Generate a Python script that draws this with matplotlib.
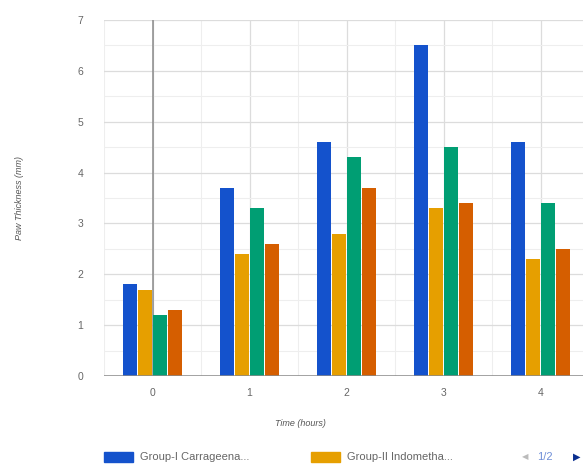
import matplotlib
matplotlib.use("Agg")
import matplotlib.pyplot as plt
import numpy as np
from matplotlib.patches import Rectangle

plt.rcParams['font.family'] = ['Liberation Sans', 'DejaVu Sans']

hours = [0, 1, 2, 3, 4]
group_i = [1.8, 3.7, 4.6, 6.5, 4.6]
group_ii = [1.7, 2.4, 2.8, 3.3, 2.3]
group_iii = [1.2, 3.3, 4.3, 4.5, 3.4]
group_iv = [1.3, 2.6, 3.7, 3.4, 2.5]
series = [group_i, group_ii, group_iii, group_iv]
colors = ['#1452cc', '#e69f00', '#009e73', '#d55e00']
legend_labels = ['Group-I Carrageena...', 'Group-II Indometha...']

W, H = 583, 467
fig = plt.figure(figsize=(W / 100, H / 100), dpi=100)
ax = fig.add_axes([104 / W, 1 - 376 / H, (589 - 104) / W, (376 - 20) / H])

bw = 0.155
x = np.array(hours, dtype=float)
for i, (vals, c) in enumerate(zip(series, colors)):
    ax.bar(x + (i - 1.5) * bw, vals, width=bw * 0.93, color=c, zorder=3)

ax.set_xlim(-0.5, 4.5)
ax.set_ylim(0, 7)
ax.set_xticks(hours)
ax.set_yticks(range(0, 8))
ax.set_xticks(np.arange(-0.5, 4.51, 0.5), minor=True)
ax.set_yticks(np.arange(0, 7.01, 0.5), minor=True)
ax.grid(which='minor', color='#eeeeee', lw=0.8, zorder=0)
ax.grid(which='major', color='#dcdcdc', lw=0.9, zorder=1)
ax.axvline(0, color='#8a8a8a', lw=1.1, zorder=2)
ax.axhline(0, color='#8a8a8a', lw=1.1, zorder=4)
for s in ax.spines.values():
    s.set_visible(False)
ax.tick_params(which='both', length=0)
ax.tick_params(axis='both', labelsize=7.5, labelcolor='#666666')
ax.tick_params(axis='x', pad=9)
ax.tick_params(axis='y', pad=15)

fig.text(20 / W, 1 - 198 / H, 'Paw Thickness (mm)', rotation=90, ha='center', va='center',
         fontsize=6.5, style='italic', color='#555555')
fig.text(300 / W, 1 - 423 / H, 'Time (hours)', ha='center', va='center',
         fontsize=6.5, style='italic', color='#555555')

# legend
ly = 1 - 457 / H
for sx, tx, c, lab in [(104, 140, colors[0], legend_labels[0]), (311, 347, colors[1], legend_labels[1])]:
    fig.patches.append(Rectangle((sx / W, ly - 5 / H), 29 / W, 10 / H, transform=fig.transFigure,
                                 color=c, figure=fig))
    fig.text(tx / W, ly, lab, ha='left', va='center', fontsize=8, color='#666666')
fig.text(522 / W, ly, '◀', ha='left', va='center', fontsize=6, color='#bbbbbb', family='DejaVu Sans')
fig.text(537 / W, ly, '1/2', ha='left', va='center', fontsize=8, color='#6f8fd8')
fig.text(573 / W, ly, '▶', ha='left', va='center', fontsize=7, color='#0b2f8f', family='DejaVu Sans')

fig.savefig('out.png', dpi=100, facecolor='white')
